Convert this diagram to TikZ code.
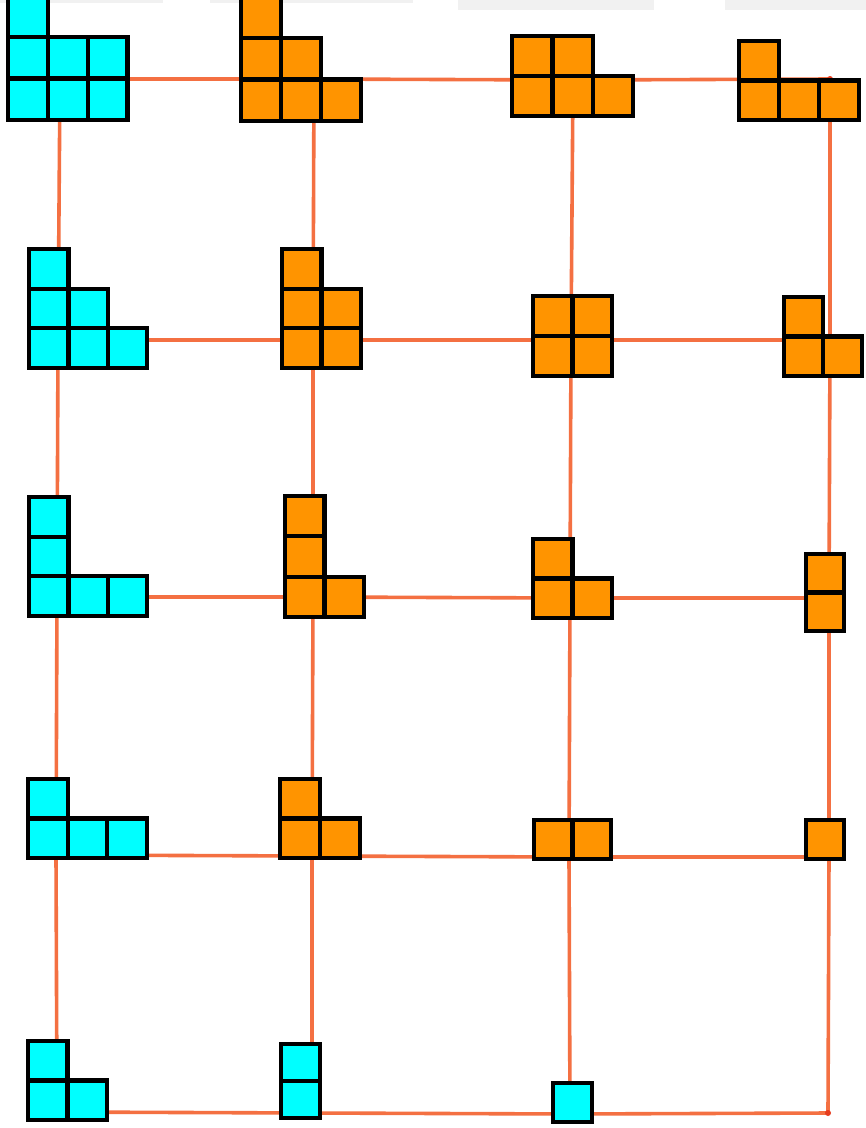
\documentclass[tikz,border=0pt]{standalone}
\usetikzlibrary{calc}
\definecolor{gridred}{RGB}{244,112,66}
\definecolor{dotred}{RGB}{230,60,30}
\definecolor{ydcyan}{RGB}{0,255,255}
\definecolor{ydorange}{RGB}{255,148,0}
\definecolor{scanbar}{RGB}{241,241,241}
\tikzset{
  gridline/.style={draw=gridred, line width=3.6pt, line cap=round},
  cellst/.style={draw=black, line width=4.2pt, line join=miter},
}
% #1 x, #2 y (outer bottom-left, image px), #3 fill, #4 cell width, #5 cell height, #6 row lengths (bottom first)
\newcommand{\youngd}[6]{%
  \foreach \len [count=\r from 0] in {#6} {
    \foreach \c in {1,...,\len} {
      \draw[cellst, fill=#3] ({#1+2.1+(\c-1)*#4}, {#2-2.1-\r*#5}) rectangle +(#4,-#5);
    }
  }
}
\begin{document}
\begin{tikzpicture}[x=1pt, y=-1pt]
\useasboundingbox (0,0) rectangle (866,1128);
\fill[white] (0,0) rectangle (866,1128);
\begin{scope}
\clip (0,0) rectangle (866,1128);
% faint scanner bars at the top edge
\fill[scanbar] (0,0) rectangle (163,3);
\fill[scanbar] (210,0) rectangle (413,3);
\fill[scanbar] (458,0) rectangle (654,10);
\fill[scanbar] (725,0) rectangle (866,10);

% grid intersections
\coordinate (g11) at (60,79);   \coordinate (g12) at (314,79);   \coordinate (g13) at (573,80);   \coordinate (g14) at (830,79);
\coordinate (g21) at (58,340);  \coordinate (g22) at (313,340);  \coordinate (g23) at (571,340);  \coordinate (g24) at (830,340);
\coordinate (g31) at (57,597);  \coordinate (g32) at (313,597);  \coordinate (g33) at (570,598);  \coordinate (g34) at (829,598);
\coordinate (g41) at (56,855);  \coordinate (g42) at (312,856);  \coordinate (g43) at (569,857);  \coordinate (g44) at (829,857);
\coordinate (g51) at (57,1112); \coordinate (g52) at (312,1113); \coordinate (g53) at (570,1114); \coordinate (g54) at (828,1113);

% horizontal lines
\foreach \i in {1,...,5} {
  \draw[gridline] (g\i1) -- (g\i2) -- (g\i3) -- (g\i4);
}
% vertical lines
\foreach \j in {1,...,4} {
  \draw[gridline] (g1\j) -- (g2\j) -- (g3\j) -- (g4\j) -- (g5\j);
}
\fill[dotred] (g14) circle (3);
\fill[dotred] (g54) circle (3);

% row 1
\youngd{6}{122}{ydcyan}{39.8}{41.5}{3,3,1}
\youngd{239}{123}{ydorange}{40}{41.5}{3,2,1}
\youngd{510}{118}{ydorange}{40.3}{40}{3,2}
\youngd{737}{122}{ydorange}{40}{39.5}{3,1}
% row 2
\youngd{27}{370}{ydcyan}{39.3}{39.6}{3,2,1}
\youngd{280}{370}{ydorange}{39.4}{39.6}{2,2,1}
\youngd{531}{378}{ydorange}{39.4}{39.9}{2,2}
\youngd{782}{378}{ydorange}{38.9}{39.4}{2,1}
% row 3
\youngd{27}{618}{ydcyan}{39.3}{39.6}{3,1,1}
\youngd{283}{619}{ydorange}{39.4}{40.3}{2,1,1}
\youngd{531}{620}{ydorange}{39.4}{39.4}{2,1}
\youngd{804}{633}{ydorange}{37.8}{38.4}{1,1}
% row 4
\youngd{26}{860}{ydcyan}{39.6}{39.4}{3,1}
\youngd{278}{860}{ydorange}{39.9}{39.4}{2,1}
\youngd{532}{861}{ydorange}{38.4}{38.8}{2}
\youngd{804}{861}{ydorange}{37.8}{38.8}{1}
% row 5
\youngd{26}{1122}{ydcyan}{39.4}{39.4}{2,1}
\youngd{279}{1120}{ydcyan}{38.8}{36.9}{1,1}
\youngd{551}{1124}{ydcyan}{38.8}{38.8}{1}
\end{scope}
\end{tikzpicture}
\end{document}
